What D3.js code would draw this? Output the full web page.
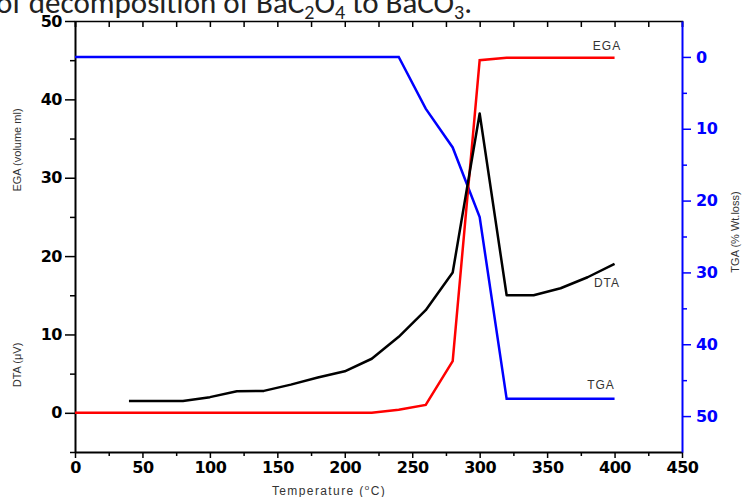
<!DOCTYPE html>
<html>
<head>
<meta charset="utf-8">
<script src="https://cdn.jsdelivr.net/npm/d3@7/dist/d3.min.js"></script>
<style>
  html, body { margin: 0; padding: 0; background: #fff; }
  svg { display: block; }
</style>
</head>
<body>
<svg id="chart" width="742" height="497"></svg>
<script>
// ---------------- data ----------------
const egaTemp = [0, 220, 240, 260, 280, 300, 320, 400];
const egaValues = [0, 0, 0.4, 1.0, 6.6, 45.0, 45.3, 45.3];

const dtaTemp = [40, 60, 80, 100, 120, 140, 160, 180, 200, 220, 240, 260, 280, 300, 320, 340, 360, 380, 400];
const dtaValues = [1.5, 1.5, 1.5, 2.0, 2.75, 2.8, 3.6, 4.5, 5.3, 6.9, 9.7, 13.1, 17.9, 38.2, 15.0, 15.0, 15.9, 17.3, 19.0];

const tgaTemp = [0, 240, 260, 280, 300, 320, 400];
const tgaValues = [0, 0, 7.2, 12.6, 22.3, 47.6, 47.6];

const xTicks = [0, 50, 100, 150, 200, 250, 300, 350, 400, 450];
const leftTicks = [0, 10, 20, 30, 40, 50];
const rightTicks = [0, 10, 20, 30, 40, 50];

// ---------------- layout ----------------
const svg = d3.select("#chart");
const L = 75, R = 682, T = 21, B = 452;

const x = d3.scaleLinear().domain([0, 450]).range([L, R]);
const yL = d3.scaleLinear().domain([-5, 50]).range([B, T]);
const yR = d3.scaleLinear().domain([-5, 55]).range([T, B]);

// title fragment (cut off at top)
const title = svg.append("text")
  .attr("x", -4).attr("y", 13)
  .attr("font-family", "Carlito, 'Open Sans', 'Noto Sans', sans-serif")
  .attr("font-size", 31).attr("fill", "#222");
title.append("tspan").text("of decomposition of BaC");
title.append("tspan").attr("font-size", 20).attr("dy", 6).text("2");
title.append("tspan").attr("dy", -6).text("O");
title.append("tspan").attr("font-size", 20).attr("dy", 6).text("4");
title.append("tspan").attr("dy", -6).text(" to BaCO");
title.append("tspan").attr("font-size", 20).attr("dy", 6).text("3");
title.append("tspan").attr("dy", -6).text(".");

const tickFont = "'DejaVu Sans', Verdana, sans-serif";

// top axis (ticks inward)
svg.append("g").attr("transform", `translate(0,${T})`)
  .call(d3.axisBottom(x).tickValues(d3.range(0, 451, 25)).tickSize(6).tickFormat(""))
  .call(g => { g.select(".domain").attr("stroke", "#000").attr("stroke-width", 1.5);
               g.selectAll(".tick line").attr("stroke", "#000").attr("stroke-width", 1.5); });

// bottom axis: minor + major
svg.append("g").attr("transform", `translate(0,${B})`)
  .call(d3.axisBottom(x).tickValues(d3.range(25, 451, 50)).tickSize(4).tickFormat(""))
  .call(g => { g.select(".domain").remove(); g.selectAll(".tick line").attr("stroke-width", 1.5); });
svg.append("g").attr("transform", `translate(0,${B})`)
  .call(d3.axisBottom(x).tickValues(xTicks).tickSize(6).tickPadding(4).tickSizeOuter(0))
  .call(g => {
    g.select(".domain").attr("stroke-width", 2);
    g.selectAll(".tick line").attr("stroke-width", 1.5);
    g.selectAll("text").attr("font-family", tickFont).attr("font-weight", "bold")
      .attr("font-size", 16).attr("letter-spacing", -0.5).attr("fill", "#000");
  });

// left axis
svg.append("g").attr("transform", `translate(${L},0)`)
  .call(d3.axisLeft(yL).tickValues([-5, 5, 15, 25, 35, 45]).tickSize(5).tickFormat(""))
  .call(g => { g.select(".domain").remove(); g.selectAll(".tick line").attr("stroke-width", 1.5); });
svg.append("g").attr("transform", `translate(${L},0)`)
  .call(d3.axisLeft(yL).tickValues(leftTicks).tickSize(10).tickPadding(3).tickSizeOuter(0))
  .call(g => {
    g.select(".domain").attr("stroke-width", 2);
    g.selectAll(".tick line").attr("stroke-width", 1.5);
    g.selectAll("text").attr("font-family", tickFont).attr("font-weight", "bold")
      .attr("font-size", 16).attr("letter-spacing", -0.5).attr("fill", "#000");
  });

// right axis (blue)
svg.append("g").attr("transform", `translate(${R},0)`)
  .call(d3.axisRight(yR).tickValues([5, 15, 25, 35, 45]).tickSize(5).tickFormat(""))
  .call(g => { g.select(".domain").remove(); g.selectAll(".tick line").attr("stroke", "#0000ff").attr("stroke-width", 1.5); });
svg.append("g").attr("transform", `translate(${R},0)`)
  .call(d3.axisRight(yR).tickValues(rightTicks).tickSize(9).tickPadding(5).tickSizeOuter(0))
  .call(g => {
    g.select(".domain").attr("stroke", "#0000ff").attr("stroke-width", 2);
    g.selectAll(".tick line").attr("stroke", "#0000ff").attr("stroke-width", 1.5);
    g.selectAll("text").attr("font-family", tickFont).attr("font-weight", "bold")
      .attr("font-size", 16).attr("letter-spacing", -0.5).attr("fill", "#0000ff");
  });

// ---------------- lines ----------------
const lineL = d3.line().x(d => x(d[0])).y(d => yL(d[1]));
const lineR = d3.line().x(d => x(d[0])).y(d => yR(d[1]));

svg.append("path").datum(d3.zip(tgaTemp, tgaValues))
  .attr("d", lineR).attr("fill", "none").attr("stroke", "#0000ff").attr("stroke-width", 2.5);
svg.append("path").datum(d3.zip(egaTemp, egaValues))
  .attr("d", lineL).attr("fill", "none").attr("stroke", "#ff0000").attr("stroke-width", 2.5);
svg.append("path").datum(d3.zip(dtaTemp, dtaValues))
  .attr("d", lineL).attr("fill", "none").attr("stroke", "#000").attr("stroke-width", 2.5)
  .attr("stroke-linejoin", "round");

// ---------------- labels ----------------
const smallFont = "'Liberation Sans', Arial, sans-serif";
function seriesLabel(txt, xx, yy) {
  svg.append("text").attr("x", xx).attr("y", yy).attr("text-anchor", "middle")
    .attr("font-family", smallFont).attr("font-size", 12).attr("letter-spacing", 1)
    .attr("fill", "#333").text(txt);
}
seriesLabel("EGA", 607, 50);
seriesLabel("DTA", 607, 287);
seriesLabel("TGA", 601, 389);

function axisTitle(txt, xx, yy) {
  svg.append("text").attr("transform", `translate(${xx},${yy}) rotate(-90)`)
    .attr("text-anchor", "middle")
    .attr("font-family", "'Liberation Sans Narrow', 'Liberation Sans', Arial, sans-serif")
    .attr("font-size", 11).attr("fill", "#333").text(txt);
}
axisTitle("EGA (volume ml)", 21, 150);
axisTitle("DTA (\u03BCV)", 21, 365);
axisTitle("TGA (% Wt.loss)", 739, 232);

const xt = svg.append("text").attr("x", 329).attr("y", 495).attr("text-anchor", "middle")
  .attr("font-family", smallFont).attr("font-size", 12).attr("letter-spacing", 1.4).attr("fill", "#333");
xt.append("tspan").text("Temperature (");
xt.append("tspan").attr("font-size", 8).attr("dy", -5).text("o");
xt.append("tspan").attr("dy", 5).text("C)");
</script>
</body>
</html>
